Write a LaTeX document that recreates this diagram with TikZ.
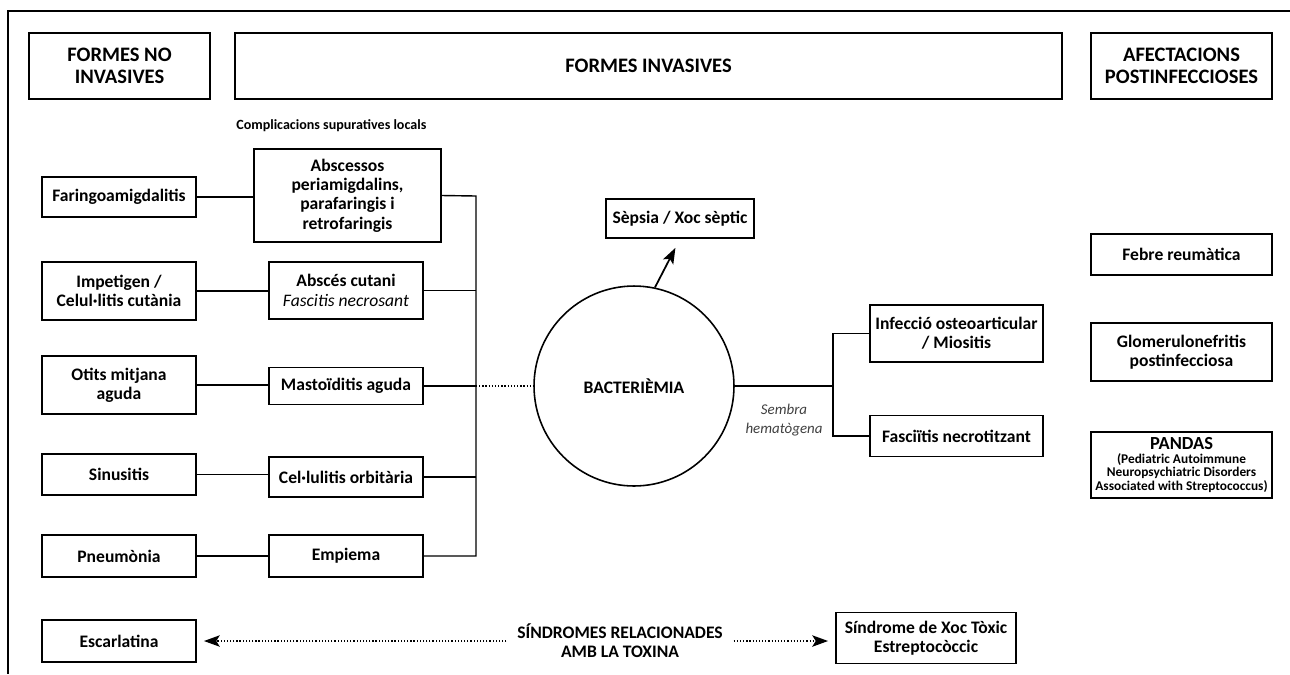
\documentclass[tikz,border=0pt]{standalone}
\usepackage{fontspec}
\setmainfont{Carlito}
\usetikzlibrary{arrows.meta}
\tikzset{
  box/.style={rectangle,draw=black,line width=1.1pt,inner sep=0pt,align=center,
    font=\bfseries\fontsize{10}{11}\selectfont},
  header/.style={box,font=\bfseries\fontsize{11.7}{12.4}\selectfont},
  link/.style={line width=0.8pt},
  dots/.style={line width=0.8pt,dash pattern=on 0.7pt off 1.1pt},
  tip/.style={-{Stealth[length=9pt,width=6.5pt,inset=2pt]}},
}
\begin{document}
\begin{tikzpicture}[x=0.02cm,y=-0.02cm]
\useasboundingbox (0,0) rectangle (1290,674);
\draw[line width=0.9pt] (1290,11) -- (8,11) -- (8,674);
% headers
\node[header,minimum width=3.62cm,minimum height=1.32cm] (noinv) at (119.5,66) {FORMES NO\\INVASIVES};
\node[header,minimum width=16.54cm,minimum height=1.32cm] (inv) at (648.5,66) {FORMES INVASIVES};
\node[header,minimum width=3.62cm,minimum height=1.32cm] (postinf) at (1181.5,66) {AFECTACIONS\\POSTINFECCIOSES};
\node[anchor=west,font=\bfseries\fontsize{8}{9}\selectfont,inner sep=0pt] (complic) at (236,126) {Complicacions supuratives locals};
% non invasive forms
\node[box,minimum width=3.08cm,minimum height=0.8cm] (faringo) at (119,197) {Faringoamigdalitis};
\node[box,minimum width=3.08cm,minimum height=1.16cm] (impetigen) at (119,291) {Impetigen /\\Celul·litis cutània};
\node[box,minimum width=3.08cm,minimum height=1.16cm] (otits) at (119,385) {Otits mitjana\\aguda};
\node[box,minimum width=3.08cm,minimum height=0.82cm] (sinusitis) at (119,474.5) {Sinusitis};
\node[box,minimum width=3.08cm,minimum height=0.84cm] (pneumonia) at (119,556) {Pneumònia};
\node[box,minimum width=3.08cm,minimum height=0.84cm] (escarlatina) at (119,641) {Escarlatina};
% local complications
\node[box,minimum width=3.74cm,minimum height=1.86cm] (abscessos) at (347.5,195.5) {Abscessos\\periamigdalins,\\parafaringis i\\retrofaringis};
\node[box,minimum width=3.08cm,minimum height=1.14cm] (abscutani) at (346,290.5) {Abscés cutani\\{\mdseries\itshape Fascitis necrosant}};
\node[box,minimum width=3.08cm,minimum height=0.74cm] (mastoid) at (346,386) {Mastoïditis aguda};
\node[box,minimum width=3.08cm,minimum height=0.8cm] (cellulitis) at (346,477) {Cel·lulitis orbitària};
\node[box,minimum width=3.08cm,minimum height=0.84cm] (empiema) at (346,556) {Empiema};
\foreach \a/\b in {faringo/abscessos,impetigen/abscutani,otits/mastoid,sinusitis/cellulitis,pneumonia/empiema}
  \draw[link] (\a.east) -- (\a.east -| \b.west);
\coordinate (bus) at (476,196);
\draw[link] (abscessos.east) -- (bus) |- (empiema.east);
\foreach \n in {abscutani,mastoid,cellulitis}
  \draw[link] (\n.east) -- (\n.east -| bus);
% bacteriemia
\node[circle,draw=black,line width=0.9pt,minimum size=4cm,font=\bfseries\fontsize{10}{11}\selectfont] (bact) at (634,386) {BACTERIÈMIA};
\draw[dots] (bus |- bact.west) -- (bact.west);
\node[box,minimum width=2.96cm,minimum height=0.78cm] (sepsis) at (680,218.5) {Sèpsia / Xoc sèptic};
\draw[link,line width=1pt,tip,shorten >=0.2cm] (bact.78) -- (sepsis.south);
\node[box,minimum width=3.46cm,minimum height=1.14cm] (infeccio) at (956.5,333.5) {Infecció osteoarticular\\/ Miositis};
\node[box,minimum width=3.46cm,minimum height=0.82cm] (fasciitis) at (956.5,436) {Fasciïtis necrotitzant};
\coordinate (split) at (833,386);
\draw[link] (bact.east) -- (split);
\draw[link] (infeccio.west) -| (split) |- (fasciitis.west);
\node[align=center,text=black!75,font=\itshape\fontsize{8.5}{10.5}\selectfont] (sembra) at (784,420) {Sembra\\hematògena};
% post infection
\node[box,minimum width=3.62cm,minimum height=0.82cm] (febre) at (1181.5,254.5) {Febre reumàtica};
\node[box,minimum width=3.62cm,minimum height=1.16cm] (glomerulo) at (1181.5,352) {Glomerulonefritis\\postinfecciosa};
\node[box,minimum width=3.62cm,minimum height=1.32cm,font=\bfseries\fontsize{7.6}{7.8}\selectfont] (pandas) at (1181.5,465) {{\fontsize{10.5}{10.5}\selectfont PANDAS}\\(Pediatric Autoimmune\\Neuropsychiatric Disorders\\Associated with Streptococcus)};
% toxin syndromes
\node[align=center,inner sep=6pt,font=\bfseries\fontsize{10}{11}\selectfont] (toxina) at (620,641) {SÍNDROMES RELACIONADES\\AMB LA TOXINA};
\node[box,minimum width=3.6cm,minimum height=1.02cm] (sindrome) at (926,638) {Síndrome de Xoc Tòxic\\Estreptocòccic};
\draw[dots,tip,shorten >=0.14cm] (toxina.west) -- (toxina.west -| escarlatina.east);
\draw[dots,tip,shorten >=0.14cm] (toxina.east) -- (toxina.east -| sindrome.west);
\end{tikzpicture}
\end{document}
